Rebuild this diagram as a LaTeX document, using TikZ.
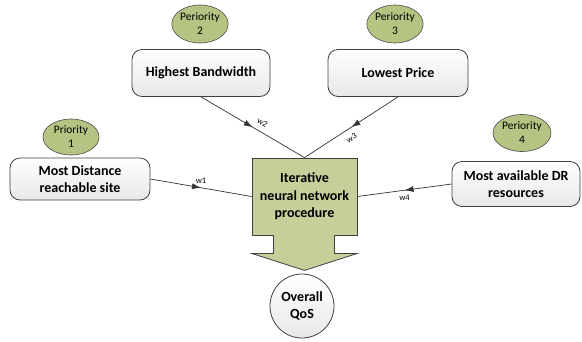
\documentclass[tikz,border=0pt]{standalone}
\usepackage{fontspec}
\setmainfont{Carlito}
\usetikzlibrary{arrows.meta,calc,decorations.markings,shapes.geometric}
\definecolor{boxgreen}{RGB}{196,207,153}
\definecolor{prigreen}{RGB}{181,196,131}

\begin{document}
\begin{tikzpicture}[x=1pt,y=-1pt]
\tikzset{site/.style = {shape=rectangle,rounded corners=10pt,draw=black!75,line width=0.8pt,
  top color=white,bottom color=gray!18,align=center,font=\fontsize{14}{17.5}\selectfont\bfseries}}
\tikzset{prio/.style = {shape=ellipse,draw=black!70,line width=0.6pt,fill=prigreen,inner sep=0pt,
  align=center,font=\fontsize{11.5}{14}\selectfont}}
\tikzset{edge/.style = {draw=black!80,line width=0.7pt,postaction={decorate},
  decoration={markings,mark=at position 0.5 with {\arrow{Latex[length=9pt,width=6pt]}}}}}
\tikzset{wlab/.style = {font=\fontsize{8.5}{9}\selectfont,inner sep=1pt}}
\useasboundingbox (0,0) rectangle (582,341);
% vertices
\node[prio,minimum width=56,minimum height=36] (p1) at (71,137) {Priority\\1};
\node[site,minimum width=140,minimum height=42] (s1) at (80,179) {Most Distance\\reachable site};
\node[prio,minimum width=54,minimum height=38] (p2) at (200,24) {Periority\\2};
\node[site,minimum width=138,minimum height=47] (s2) at (201,73) {Highest Bandwidth};
\node[prio,minimum width=54,minimum height=38] (p3) at (395,24) {Periority\\3};
\node[site,minimum width=140,minimum height=47] (s3) at (398,73) {Lowest Price};
\node[prio,minimum width=58,minimum height=37] (p4) at (522,133) {Periority\\4};
\node[site,minimum width=128,minimum height=45] (s4) at (516,184) {Most available DR\\resources};
\node[shape=rectangle,draw=black!75,line width=0.8pt,fill=boxgreen,minimum width=105,minimum height=77,
  align=center,font=\fontsize{14}{17.5}\selectfont\bfseries] (nn) at (304.5,196.5) {Iterative\\neural network\\procedure};
% big arrow
\fill[boxgreen] ($(nn.south)+(-30.6,-1)$) rectangle ($(nn.south)+(29.6,1)$);
\filldraw[draw=black!75,line width=0.8pt,fill=boxgreen] ($(nn.south)+(-31,0)$) -- ++(0,18)
  -- ($(nn.south west)+(0,18)$) -- ($(nn.south)+(0,35)$) -- ($(nn.south east)+(0,18)$)
  -- ($(nn.south)+(30,18)$) -- ($(nn.south)+(30,0)$);
\node[shape=circle,draw=black!75,line width=0.8pt,top color=white,bottom color=gray!18,minimum size=64,inner sep=0pt,
  align=center,font=\fontsize{14}{17.5}\selectfont\bfseries] (qos) at (302,306) {Overall\\QoS};
%edges
\draw[edge] (s1.east) -- node[wlab,above=3pt,pos=0.5] {w1} (nn.west);
\draw[edge] (s2.south) -- node[wlab,sloped,above=5pt,pos=0.55] {w2} (nn.north);
\draw[edge] (s3.south) -- node[wlab,sloped,below=5pt,pos=0.55] {w3} (nn.north);
\draw[edge] (s4.west) -- node[wlab,below=3pt,pos=0.5] {w4} (nn.east);
\end{tikzpicture}
\end{document}
